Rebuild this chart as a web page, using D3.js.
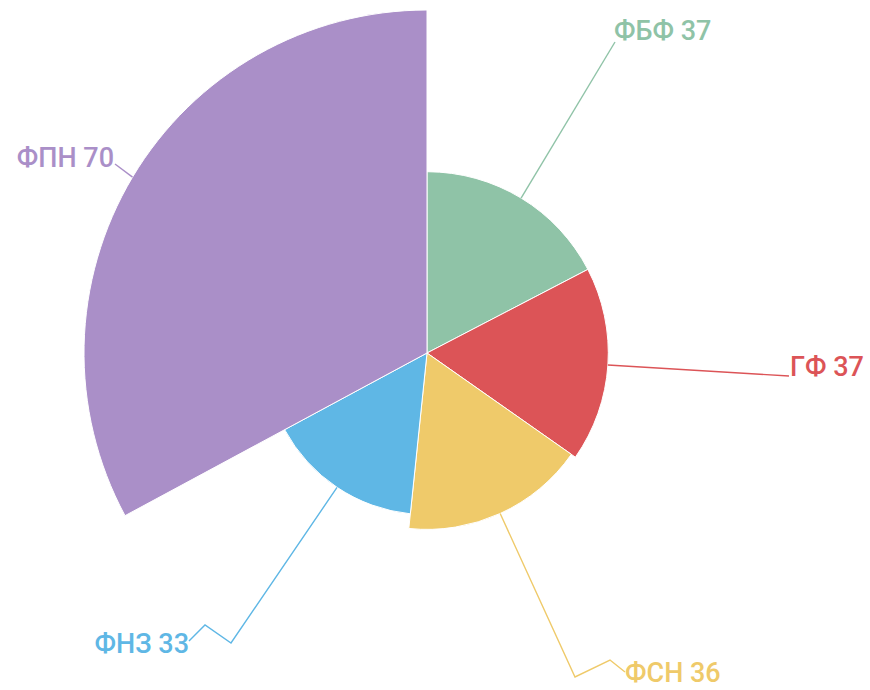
<!DOCTYPE html>
<html lang="ru">
<head>
<meta charset="utf-8">
<title>Rose pie</title>
<script src="https://cdn.jsdelivr.net/npm/d3@7"></script>
<style>
  body { margin: 0; background: #fff; }
  .lbl { font-family: Roboto, "Noto Sans", sans-serif; font-size: 27px; font-weight: 500; }
</style>
</head>
<body>
<div id="chart"></div>
<script>
// data
var categories = ["ФБФ", "ГФ", "ФСН", "ФНЗ", "ФПН"];
var values = [37, 37, 36, 33, 70];
var colors = ["#8fc3a7", "#dc5457", "#efca6a", "#5fb7e5", "#aa8fc8"];

// label placement (layout only): text anchor point + elbow points of leader line
var labelPos = [
  {x: 614, y: 40, anchor: "start", bends: [[615, 42]]},
  {x: 790, y: 376, anchor: "start", bends: [[789, 376]]},
  {x: 625, y: 682, anchor: "start", bends: [[575, 677], [610, 660], [625, 672]]},
  {x: 189, y: 653, anchor: "end", bends: [[231, 643], [205, 625], [189, 641]]},
  {x: 114, y: 167, anchor: "end", bends: [[115, 164]]}
];

var width = 870, height = 690;
var cx = 427, cy = 353, maxR = 343;

var svg = d3.select("#chart").append("svg")
  .attr("width", width)
  .attr("height", height);

var g = svg.append("g").attr("transform", "translate(" + cx + "," + cy + ")");

var rScale = d3.scaleLinear().domain([0, d3.max(values)]).range([0, maxR]);

var pie = d3.pie().sort(null).value(function(d) { return d; });
var arcs = pie(values);

var arc = d3.arc()
  .innerRadius(0)
  .outerRadius(function(d) { return rScale(d.data); });

g.selectAll("path.slice")
  .data(arcs)
  .enter()
  .append("path")
  .attr("class", "slice")
  .attr("d", arc)
  .attr("fill", function(d, i) { return colors[i]; })
  .attr("stroke", "#fff")
  .attr("stroke-width", 1);

// leader lines start at the outer edge, middle angle
arcs.forEach(function(d, i) {
  var mid = (d.startAngle + d.endAngle) / 2;
  var r = rScale(d.data);
  var sx = cx + r * Math.sin(mid), sy = cy - r * Math.cos(mid);
  var pts = [[sx, sy]].concat(labelPos[i].bends);
  svg.append("path")
    .attr("d", d3.line()(pts))
    .attr("fill", "none")
    .attr("stroke", colors[i])
    .attr("stroke-width", 1.4);

  svg.append("text")
    .attr("class", "lbl")
    .attr("x", labelPos[i].x)
    .attr("y", labelPos[i].y)
    .attr("text-anchor", labelPos[i].anchor)
    .attr("fill", colors[i])
    .text(categories[i] + " " + values[i]);
});
</script>
</body>
</html>
